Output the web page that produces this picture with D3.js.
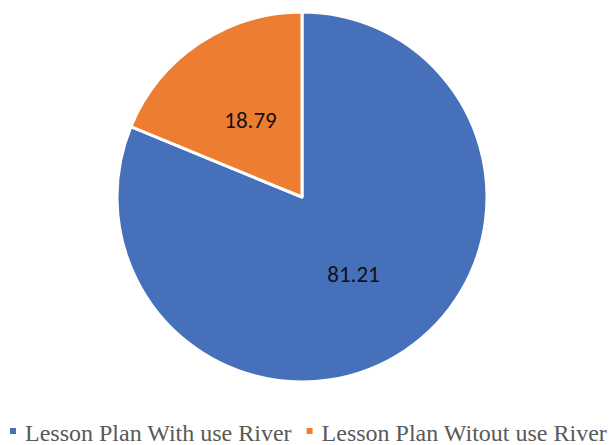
<!DOCTYPE html>
<html>
<head>
<meta charset="utf-8">
<script src="https://d3js.org/d3.v7.min.js"></script>
<style>
  body { margin: 0; background: #fff; }
</style>
</head>
<body>
<script>
  var categories = ["Lesson Plan With use River", "Lesson Plan Witout use River"];
  var values = [81.21, 18.79];
  var colors = ["#4670BA", "#ED7D31"];

  var width = 609, height = 445;
  var cx = 302, cy = 197, radius = 185;

  var svg = d3.select("body").append("svg")
    .attr("width", width)
    .attr("height", height);

  var pie = d3.pie().sort(null).value(function(d) { return d; });
  var arcs = pie(values);

  var arc = d3.arc().innerRadius(0).outerRadius(radius);
  var labelArc = d3.arc().innerRadius(radius * 0.5).outerRadius(radius * 0.5);

  var g = svg.append("g").attr("transform", "translate(" + [cx, cy] + ")");

  g.selectAll("path")
    .data(arcs)
    .enter()
    .append("path")
    .attr("d", arc)
    .attr("fill", function(d, i) { return colors[i]; })
    .attr("stroke", "#fff")
    .attr("stroke-width", 3)
    .attr("stroke-linejoin", "round");

  g.selectAll("text")
    .data(arcs)
    .enter()
    .append("text")
    .attr("transform", function(d) { return "translate(" + labelArc.centroid(d) + ")"; })
    .attr("text-anchor", "middle")
    .attr("dy", "0.35em")
    .attr("font-family", "Carlito, 'Liberation Sans', Arial, sans-serif")
    .attr("font-size", 23)
    .attr("fill", "#111")
    .text(function(d) { return d.data.toFixed(2); });

  // legend
  var legend = svg.append("g").attr("transform", "translate(10,441)");
  var x = 0;
  categories.forEach(function(c, i) {
    var item = legend.append("g").attr("transform", "translate(" + x + ",0)");
    item.append("rect")
      .attr("x", 0).attr("y", -13)
      .attr("width", 6).attr("height", 6)
      .attr("fill", colors[i]);
    var t = item.append("text")
      .attr("x", 15).attr("y", 0)
      .attr("font-family", "'Liberation Serif', 'Times New Roman', serif")
      .attr("font-size", 24)
      .attr("fill", "#595959")
      .text(c);
    x += 15 + t.node().getComputedTextLength() + 15;
  });
</script>
</body>
</html>
